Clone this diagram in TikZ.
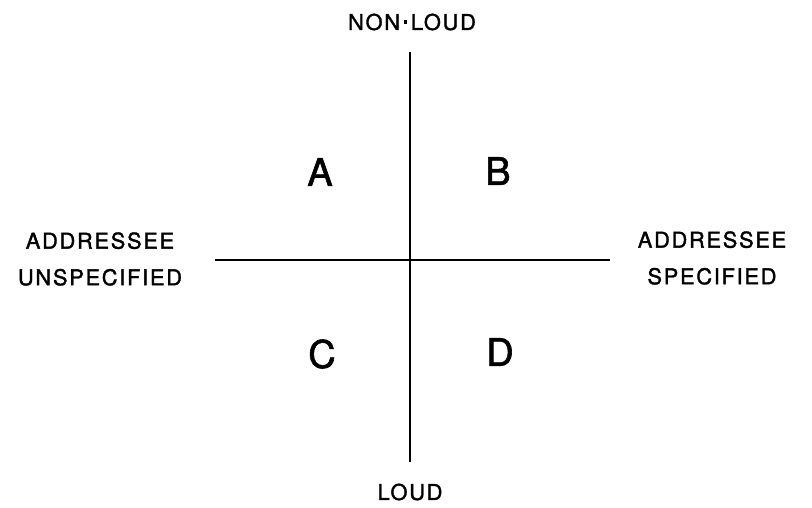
\documentclass[tikz,border=0pt]{standalone}
\usepackage{fontspec}
\setmainfont{TeX Gyre Heros}[LetterSpace=8, FakeBold=1.6]
\usepackage{tikz}
\usetikzlibrary{positioning}

\begin{document}
\begin{tikzpicture}[
  x=0.025cm, y=-0.025cm,
  axis/.style={line width=1.4pt, black},
  pole/.style={font=\fontsize{15.5}{22}\selectfont, align=center, inner sep=0pt},
  quad/.style={font=\fontsize{27}{30}\selectfont, inner sep=0pt}
]
\useasboundingbox (0,0) rectangle (812,508);
% axis ends
\coordinate (top) at (410,52);
\coordinate (bottom) at (410,462);
\coordinate (left) at (215,260);
\coordinate (right) at (610,260);
\draw[axis] (top) -- (bottom);
\draw[axis] (left) -- (right);
% poles
\node[pole] (nonloud) at (412,22) {NON\,\raisebox{0.55ex}{\rule{2.6pt}{2.6pt}}\,LOUD};
\node[pole] (loud) at (410,492) {LOUD};
\node[pole] (unspec) at (100,259) {ADDRESSEE\\[4pt]UNSPECIFIED};
\node[pole] (spec) at (712,258) {ADDRESSEE\\[4pt]SPECIFIED};
% quadrants
\node[quad] (qa) at (320,172) {A};
\node[quad] (qb) at (498,171) {B};
\node[quad] (qc) at (322,354) {C};
\node[quad] (qd) at (500,352) {D};
\end{tikzpicture}
\end{document}
